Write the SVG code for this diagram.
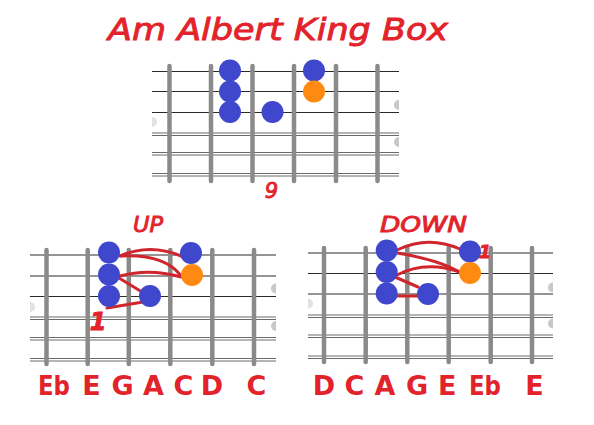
<svg xmlns="http://www.w3.org/2000/svg" width="594" height="425" viewBox="0 0 594 425">
<defs>
<style>
.s1{stroke:#2a2a2a;stroke-width:1}
.s2{stroke:#6a6a6a;stroke-width:1}
.fret{stroke:#8a8a8a;stroke-width:4.5;stroke-linecap:round}
.blue{fill:#3f48cc}
.orange{fill:#ff8a12}
.mark{fill:#c8c8c8}
.faint{fill:#e2e2e2}
.conn{fill:none;stroke:#d0252d;stroke-width:3;stroke-linecap:round}
.hand{font-family:"DejaVu Sans","Liberation Sans",sans-serif;font-style:italic;fill:#e3232b;stroke:#e3232b;stroke-width:0.9}
.note{font-family:"DejaVu Sans","Liberation Sans",sans-serif;font-weight:bold;fill:#e3232b;font-size:27px;text-anchor:middle}
</style>
</defs>
<rect width="594" height="425" fill="#ffffff"/>

<text class="hand" x="108" y="40" font-size="30" textLength="340" lengthAdjust="spacingAndGlyphs">Am Albert King Box</text>

<!-- Top fretboard -->
<g id="board-top">
<g>
<line class="s1" x1="152" y1="71.5" x2="399" y2="71.5"/>
<line class="s1" x1="152" y1="91.5" x2="399" y2="91.5"/>
<line class="s1" x1="152" y1="112.5" x2="399" y2="112.5"/>
<line class="s2" x1="152" y1="133" x2="399" y2="133"/><line class="s2" x1="152" y1="135.5" x2="399" y2="135.5"/>
<line class="s2" x1="152" y1="152.5" x2="399" y2="152.5"/><line class="s2" x1="152" y1="155" x2="399" y2="155"/>
<line class="s2" x1="152" y1="173.5" x2="399" y2="173.5"/><line class="s2" x1="152" y1="176" x2="399" y2="176"/>
</g>
<g>
<line class="fret" x1="169.5" y1="66" x2="169.5" y2="181"/>
<line class="fret" x1="211" y1="66" x2="211" y2="181"/>
<line class="fret" x1="252.5" y1="66" x2="252.5" y2="181"/>
<line class="fret" x1="294" y1="66" x2="294" y2="181"/>
<line class="fret" x1="336" y1="66" x2="336" y2="181"/>
<line class="fret" x1="377.5" y1="66" x2="377.5" y2="181"/>
</g>
<path class="mark" d="M399,100 A5,5 0 0 0 399,110 Z"/>
<path class="mark" d="M399,137 A5,5 0 0 0 399,147 Z"/>
<path class="faint" d="M152,117 A5,5 0 0 1 152,127 Z"/>
</g>
<g id="top-dots">
<circle id="t1" class="blue" cx="230" cy="70.5" r="11"/>
<circle id="t2" class="blue" cx="230" cy="91.5" r="11"/>
<circle id="t3" class="blue" cx="230" cy="112" r="11"/>
<circle id="t4" class="blue" cx="272.5" cy="112" r="11"/>
<circle id="t5" class="blue" cx="314" cy="70.5" r="11"/>
<circle id="t6" class="orange" cx="314" cy="91.5" r="11"/>
</g>
<text class="hand" x="271.5" y="198" font-size="21" text-anchor="middle">9</text>

<!-- Left fretboard (UP) -->
<g id="board-left">
<g>
<line class="s1" x1="30" y1="255" x2="276" y2="255"/>
<line class="s1" x1="30" y1="276" x2="276" y2="276"/>
<line class="s1" x1="30" y1="296.5" x2="276" y2="296.5"/>
<line class="s2" x1="30" y1="317" x2="276" y2="317"/><line class="s2" x1="30" y1="319.5" x2="276" y2="319.5"/>
<line class="s2" x1="30" y1="337.5" x2="276" y2="337.5"/><line class="s2" x1="30" y1="340" x2="276" y2="340"/>
<line class="s2" x1="30" y1="358.5" x2="276" y2="358.5"/><line class="s2" x1="30" y1="361" x2="276" y2="361"/>
</g>
<g>
<line class="fret" x1="46.5" y1="250" x2="46.5" y2="364"/>
<line class="fret" x1="87.7" y1="250" x2="87.7" y2="364"/>
<line class="fret" x1="128.8" y1="250" x2="128.8" y2="364"/>
<line class="fret" x1="170.3" y1="250" x2="170.3" y2="364"/>
<line class="fret" x1="212.3" y1="250" x2="212.3" y2="364"/>
<line class="fret" x1="254" y1="250" x2="254" y2="364"/>
</g>
<path class="mark" d="M276,283.5 A5,5 0 0 0 276,293.5 Z"/>
<path class="mark" d="M276,321 A5,5 0 0 0 276,331 Z"/>
<path class="faint" d="M30,302 A5,5 0 0 1 30,312 Z"/>
</g>

<!-- Right fretboard (DOWN) -->
<g id="board-right">
<g>
<line class="s1" x1="308" y1="253" x2="553" y2="253"/>
<line class="s1" x1="308" y1="273.5" x2="553" y2="273.5"/>
<line class="s1" x1="308" y1="294" x2="553" y2="294"/>
<line class="s2" x1="308" y1="315" x2="553" y2="315"/><line class="s2" x1="308" y1="317.5" x2="553" y2="317.5"/>
<line class="s2" x1="308" y1="335" x2="553" y2="335"/><line class="s2" x1="308" y1="337.5" x2="553" y2="337.5"/>
<line class="s2" x1="308" y1="356" x2="553" y2="356"/><line class="s2" x1="308" y1="358.5" x2="553" y2="358.5"/>
</g>
<g>
<line class="fret" x1="324" y1="248" x2="324" y2="362"/>
<line class="fret" x1="365.7" y1="248" x2="365.7" y2="362"/>
<line class="fret" x1="407.3" y1="248" x2="407.3" y2="362"/>
<line class="fret" x1="448.7" y1="248" x2="448.7" y2="362"/>
<line class="fret" x1="490.7" y1="248" x2="490.7" y2="362"/>
<line class="fret" x1="532" y1="248" x2="532" y2="362"/>
</g>
<path class="mark" d="M553,282.5 A5,5 0 0 0 553,292.5 Z"/>
<path class="mark" d="M553,318.5 A5,5 0 0 0 553,328.5 Z"/>
<path class="faint" d="M308,298.5 A5,5 0 0 1 308,308.5 Z"/>
</g>

<!-- Connectors -->
<g id="connectors">
<path class="conn" d="M120,256 Q150,243 181,256"/>
<path class="conn" d="M121,256 Q165,254 181,276"/>
<path class="conn" d="M120,276 Q150,268 181,277"/>
<path class="conn" d="M119,278 L142,292"/>
<path class="conn" d="M107,308 L143,302"/>
<path class="conn" d="M397,250 Q428,235 460,249"/>
<path class="conn" d="M397,253 Q440,260 461,273"/>
<path class="conn" d="M397,275 Q425,260 460,272"/>
<path class="conn" d="M395,277 L418,287"/>
<path class="conn" d="M397,296 L420,296"/>
</g>

<g id="left-dots">
<circle id="l1" class="blue" cx="109" cy="252.5" r="11"/>
<circle id="l2" class="blue" cx="109" cy="274.5" r="11"/>
<circle id="l3" class="blue" cx="109" cy="296" r="11"/>
<circle id="l4" class="blue" cx="150" cy="296" r="11"/>
<circle id="l5" class="blue" cx="191" cy="253" r="11"/>
<circle id="l6" class="orange" cx="192" cy="275" r="11"/>
</g>
<g id="right-dots">
<circle id="r1" class="blue" cx="386.7" cy="250.5" r="11"/>
<circle id="r2" class="blue" cx="386.7" cy="272" r="11"/>
<circle id="r3" class="blue" cx="386.7" cy="293.5" r="11"/>
<circle id="r4" class="blue" cx="428" cy="294" r="11"/>
<circle id="r5" class="blue" cx="470" cy="251.5" r="11"/>
<circle id="r6" class="orange" cx="470" cy="273" r="11"/>
</g>

<text class="hand" x="133" y="231.5" font-size="22" textLength="30" lengthAdjust="spacingAndGlyphs">UP</text>
<text class="hand" x="380" y="231.5" font-size="21" textLength="87" lengthAdjust="spacingAndGlyphs">DOWN</text>
<text class="hand" x="98" y="330" font-size="24" font-weight="bold" text-anchor="middle">1</text>
<text class="hand" x="485" y="258" font-size="18" font-weight="bold" text-anchor="middle">1</text>

<g id="labels-left">
<text class="note" x="54" y="395" textLength="32" lengthAdjust="spacingAndGlyphs">Eb</text>
<text class="note" x="91.5" y="395">E</text>
<text class="note" x="122.5" y="395">G</text>
<text class="note" x="153.5" y="395">A</text>
<text class="note" x="183.5" y="395">C</text>
<text class="note" x="212" y="395">D</text>
<text class="note" x="256.5" y="395">C</text>
</g>
<g id="labels-right">
<text class="note" x="324" y="395">D</text>
<text class="note" x="354.5" y="395">C</text>
<text class="note" x="385" y="395">A</text>
<text class="note" x="417" y="395">G</text>
<text class="note" x="447.3" y="395">E</text>
<text class="note" x="485" y="395" textLength="32" lengthAdjust="spacingAndGlyphs">Eb</text>
<text class="note" x="534.5" y="395">E</text>
</g>
</svg>
